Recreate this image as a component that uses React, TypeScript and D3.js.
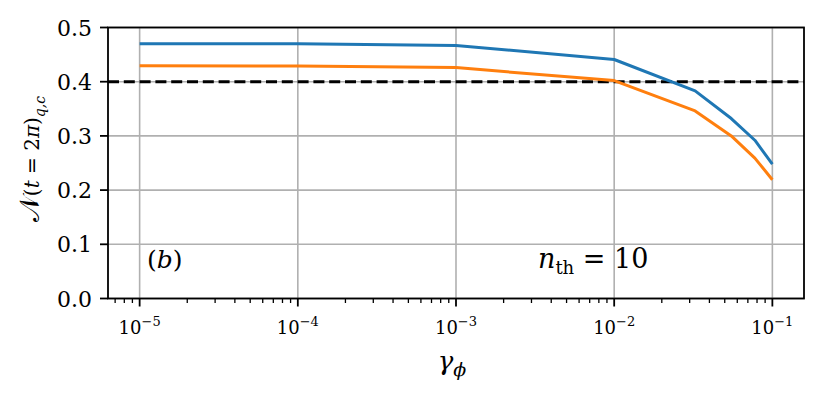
import React from "react";
import * as d3 from "d3";

// gamma_phi values (x) and N(t=2pi)_{q,c} for the two curves
const gammas = [1e-5, 1e-4, 1e-3, 0.01, 0.0325, 0.055, 0.0775, 0.1];
const blueVals = [0.470, 0.470, 0.467, 0.441, 0.383, 0.332, 0.292, 0.248];
const orangeVals = [0.4295, 0.429, 0.426, 0.402, 0.346, 0.300, 0.259, 0.219];
const threshold = 0.4;
const yTicks = [0.0, 0.1, 0.2, 0.3, 0.4, 0.5];
const xMajor = [-5, -4, -3, -2, -1];

const W = 831, H = 397;
const m = { left: 108, right: 27, top: 27.5, bottom: 98.5 };
const serif = "DejaVu Serif";

export default function App() {
  const x = d3.scaleLog().domain([10 ** -5.2, 10 ** -0.8]).range([m.left, W - m.right]);
  const y = d3.scaleLinear().domain([0, 0.5]).range([H - m.bottom, m.top]);
  const x0 = m.left, x1 = W - m.right, y0 = H - m.bottom, y1 = m.top;

  const line = d3.line<number>().x((_, i) => x(gammas[i])).y((d) => y(d));

  // minor ticks: 2..9 x each decade, inside the domain
  const minor: number[] = [];
  for (let e = -6; e <= -1; e++) {
    for (let k = 2; k <= 9; k++) {
      const v = k * 10 ** e;
      if (v >= x.domain()[0] && v <= x.domain()[1]) minor.push(v);
    }
  }

  return (
    <div style={{ position: "absolute", left: 0, top: 0 }}>
      <svg width={W} height={H} style={{ display: "block", background: "#fff" }}>
        {/* grid */}
        <g stroke="#b0b0b0" strokeWidth={1.6}>
          {xMajor.map((e) => (
            <line key={e} x1={x(10 ** e)} x2={x(10 ** e)} y1={y0} y2={y1} />
          ))}
          {yTicks.map((t) => (
            <line key={t} x1={x0} x2={x1} y1={y(t)} y2={y(t)} />
          ))}
        </g>

        {/* threshold */}
        <line x1={x0} x2={x1} y1={y(threshold)} y2={y(threshold)} stroke="#000" strokeWidth={3} strokeDasharray="11,4.8" />

        {/* curves */}
        <path d={line(blueVals) ?? ""} fill="none" stroke="#1f77b4" strokeWidth={3} strokeLinejoin="round" />
        <path d={line(orangeVals) ?? ""} fill="none" stroke="#ff7f0e" strokeWidth={3} strokeLinejoin="round" />

        {/* frame */}
        <rect x={x0} y={y1} width={x1 - x0} height={y0 - y1} fill="none" stroke="#000" strokeWidth={1.8} />

        {/* y ticks */}
        {yTicks.map((t) => (
          <g key={t}>
            <line x1={x0 - 8} x2={x0} y1={y(t)} y2={y(t)} stroke="#000" strokeWidth={1.8} />
            <text x={x0 - 16} y={y(t) + 8} textAnchor="end" fontFamily={serif} fontSize={22}>
              {t.toFixed(1)}
            </text>
          </g>
        ))}

        {/* x ticks */}
        {minor.map((v, i) => (
          <line key={i} x1={x(v)} x2={x(v)} y1={y0} y2={y0 + 4.5} stroke="#000" strokeWidth={1.3} />
        ))}
        {xMajor.map((e) => (
          <g key={e}>
            <line x1={x(10 ** e)} x2={x(10 ** e)} y1={y0} y2={y0 + 8} stroke="#000" strokeWidth={1.8} />
            <text x={x(10 ** e)} y={y0 + 35} textAnchor="middle" fontFamily={serif} fontSize={18}>
              10<tspan dy={-8} fontSize={13}>{"\u2212" + Math.abs(e)}</tspan>
            </text>
          </g>
        ))}

        {/* axis labels */}
        <text x={(x0 + x1) / 2 - 4} y={370} textAnchor="middle" fontFamily={serif} fontSize={26} fontStyle="italic">
          γ<tspan dy={6} fontSize={19}>ϕ</tspan>
        </text>
        <text transform={`translate(39,159) rotate(-90)`} textAnchor="middle" fontFamily={serif} fontSize={20}>
          <tspan fontSize={27}>𝒩</tspan>
          <tspan>(</tspan>
          <tspan fontStyle="italic">t</tspan>
          <tspan>{" = 2"}</tspan>
          <tspan fontStyle="italic">π</tspan>
          <tspan>)</tspan>
          <tspan dy={6} fontSize={14} fontStyle="italic">q,c</tspan>
        </text>

        {/* annotations */}
        <text x={147} y={268} fontFamily={serif} fontSize={25}>
          <tspan>(</tspan>
          <tspan fontStyle="italic">b</tspan>
          <tspan>)</tspan>
        </text>
        <text x={538} y={268} fontFamily={serif} fontSize={27}>
          <tspan fontStyle="italic">n</tspan>
          <tspan dy={6} fontSize={18}>th</tspan>
          <tspan dy={-6}>{" = 10"}</tspan>
        </text>
      </svg>
    </div>
  );
}
